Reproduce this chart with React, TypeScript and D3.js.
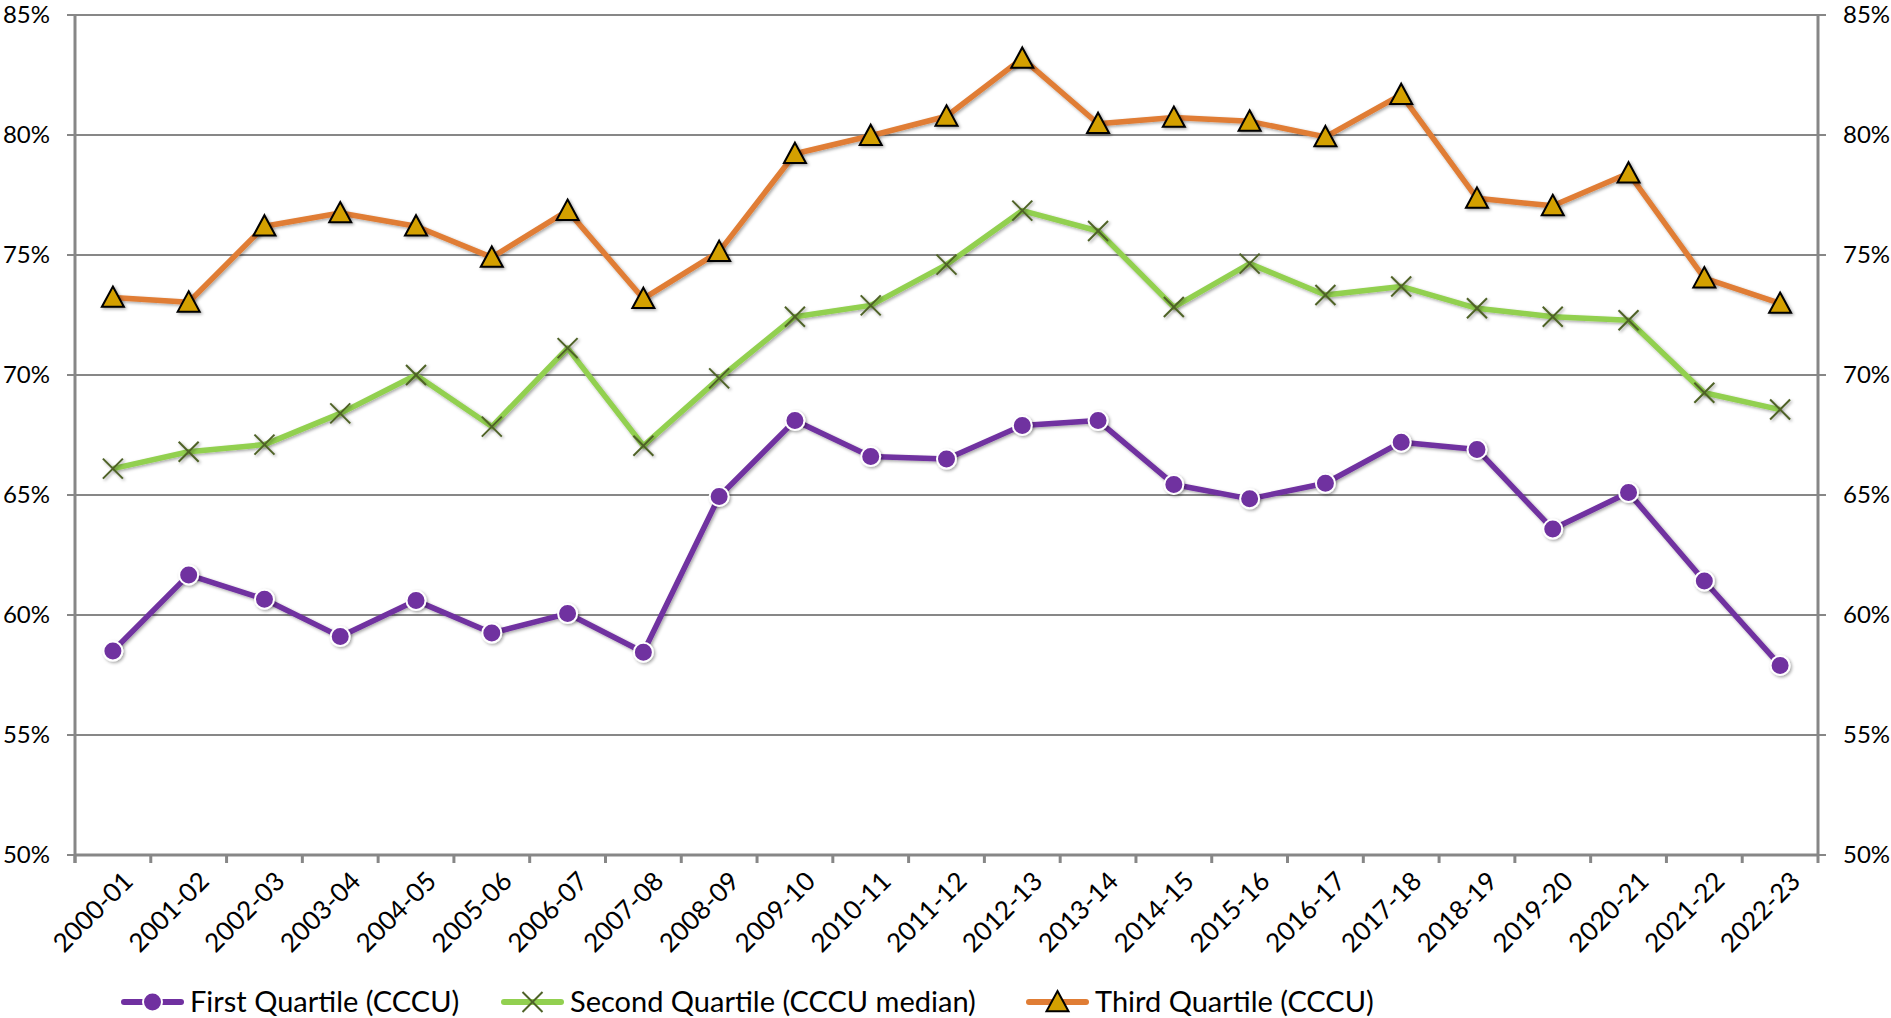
import React from "react";
import * as d3 from "d3";

const categories = ["2000-01","2001-02","2002-03","2003-04","2004-05","2005-06","2006-07","2007-08","2008-09","2009-10","2010-11","2011-12","2012-13","2013-14","2014-15","2015-16","2016-17","2017-18","2018-19","2019-20","2020-21","2021-22","2022-23"];
const firstQuartile = [58.5,61.67,60.66,59.1,60.6,59.25,60.06,58.45,64.94,68.1,66.6,66.5,67.9,68.1,65.44,64.84,65.49,67.2,66.9,63.58,65.1,61.42,57.9];
const secondQuartile = [66.1,66.8,67.1,68.4,70.0,67.85,71.12,67.05,69.86,72.43,72.9,74.6,76.85,76.0,72.83,74.64,73.33,73.69,72.78,72.43,72.28,69.26,68.56];
const thirdQuartile = [73.23,73.03,76.2,76.75,76.2,74.9,76.85,73.18,75.14,79.22,79.97,80.78,83.19,80.47,80.73,80.57,79.92,81.68,77.36,77.05,78.41,74.04,72.98];
const yTicks = [50,55,60,65,70,75,80,85];
const seriesNames = ["First Quartile (CCCU)","Second Quartile (CCCU median)","Third Quartile (CCCU)"];

const W = 1891, H = 1018;
const left = 75, right = 1818, top = 15, bottom = 855;
const FONT = "Lato, 'Open Sans', sans-serif";
const GRID = "#878787";
const PURPLE = "#7030A0", GREEN = "#92D050", ORANGE = "#E07D35", GOLD = "#D4A000", OLIVE = "#4F6228";

function Marker({ kind, x, y }: { kind: number; x: number; y: number }) {
  if (kind === 0) return <circle cx={x} cy={y} r={9.5} fill={PURPLE} stroke="#fff" strokeWidth={2} />;
  if (kind === 1) {
    const s = 10;
    return <g stroke={OLIVE} strokeWidth={2}><line x1={x - s} y1={y - s} x2={x + s} y2={y + s} /><line x1={x - s} y1={y + s} x2={x + s} y2={y - s} /></g>;
  }
  const s = 11;
  return <path d={`M${x},${y - s}L${x + s},${y + s * 0.85}L${x - s},${y + s * 0.85}Z`} fill={GOLD} stroke="#000" strokeWidth={2} strokeLinejoin="miter" />;
}

export default function App() {
  const x = d3.scaleBand<string>().domain(categories).range([left, right]);
  const y = d3.scaleLinear().domain([50, 85]).range([bottom, top]);
  const cx = (c: string) => (x(c) as number) + x.bandwidth() / 2;
  const line = d3.line<number>().x((_, i) => cx(categories[i])).y(v => y(v));
  const series = [firstQuartile, secondQuartile, thirdQuartile];
  const colors = [PURPLE, GREEN, ORANGE];
  const legendX = [124, 504, 1029];
  const legendY = 1002;
  return (
    <svg width={W} height={H} style={{ position: "absolute", left: 0, top: 0 }} fontFamily={FONT}>
      <defs>
        <filter id="sh" x="-20%" y="-20%" width="140%" height="140%">
          <feDropShadow dx="1.5" dy="1.5" stdDeviation="1.5" floodColor="#000" floodOpacity="0.35" />
        </filter>
      </defs>
      {yTicks.map(t => (
        <g key={t}>
          <line x1={left - 8} x2={right + 8} y1={y(t)} y2={y(t)} stroke={GRID} strokeWidth={2} />
          <text x={50} y={y(t)} dy="0.35em" textAnchor="end" fontSize={24} fill="#000">{t}%</text>
          <text x={1843} y={y(t)} dy="0.35em" textAnchor="start" fontSize={24} fill="#000">{t}%</text>
        </g>
      ))}
      <line x1={left} x2={left} y1={top} y2={bottom + 8} stroke={GRID} strokeWidth={3} />
      <line x1={right} x2={right} y1={top} y2={bottom + 8} stroke={GRID} strokeWidth={3} />
      <line x1={left} x2={right} y1={bottom} y2={bottom} stroke={GRID} strokeWidth={3} />
      {categories.map((c, i) => (
        <line key={"t" + i} x1={x(c) as number} x2={x(c) as number} y1={bottom} y2={bottom + 8} stroke={GRID} strokeWidth={3} />
      ))}
      {categories.map((c, i) => (
        <text key={"l" + i} transform={`translate(${cx(c) + 9},${bottom + 15}) rotate(-45)`} textAnchor="end" dy="0.7em" fontSize={26} fill="#000">{c}</text>
      ))}
      {series.map((s, k) => (
        <path key={"p" + k} d={line(s) as string} fill="none" stroke={colors[k]} strokeWidth={5.5} strokeLinejoin="round" filter="url(#sh)" />
      ))}
      {series.map((s, k) => (
        <g key={"m" + k} filter="url(#sh)">
          {s.map((v, i) => <Marker key={i} kind={k} x={cx(categories[i])} y={y(v)} />)}
        </g>
      ))}
      {seriesNames.map((n, k) => (
        <g key={"lg" + k}>
          <line x1={legendX[k]} x2={legendX[k] + 57} y1={legendY} y2={legendY} stroke={colors[k]} strokeWidth={6} strokeLinecap="round" />
          <Marker kind={k} x={legendX[k] + 28.5} y={legendY} />
          <text x={legendX[k] + 66} y={legendY} dy="0.35em" fontSize={29} fill="#000">{n}</text>
        </g>
      ))}
    </svg>
  );
}
